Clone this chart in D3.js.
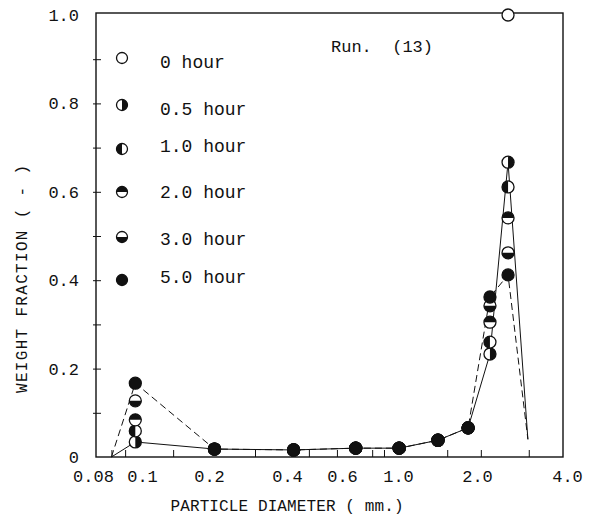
<!DOCTYPE html>
<html>
<head>
<meta charset="utf-8">
<script src="https://cdn.jsdelivr.net/npm/d3@7"></script>
<style>
  body { margin: 0; background: #fff; }
  text { font-family: "Liberation Mono", "Courier New", monospace; fill: #111; }
</style>
</head>
<body>
<div class="chart"></div>
<script>
var width = 590;
var height = 524;

// x tick labels (mm) and the values they stand for
var xLabelValues = [0.08, 0.1, 0.2, 0.4, 0.6, 1.0, 2.0, 4.0];
var xLabels = ["0.08", "0.1", "0.2", "0.4", "0.6", "1.0", "2.0", "4.0"];
var xMinorTicks = [0.087, 0.0926, 0.138, 0.301, 0.47, 0.578, 0.79, 0.88, 1.54, 2.06, 2.98];

var yLabelValues = [0, 0.2, 0.4, 0.6, 0.8, 1.0];
var yMinorTicks = [0.1, 0.2, 0.3, 0.4, 0.5, 0.6, 0.7, 0.8, 0.9];

// particle diameters (first and last are line ends, no marker)
var sizes = [0.087, 0.097, 0.21, 0.42, 0.68, 1.01, 1.42, 1.85, 2.21, 2.54, 2.96];

var hour0 = [null, null, null, null, null, null, null, null, null, 1.0, null];
var hour05 = [0, 0.034, 0.018, 0.016, 0.02, 0.02, 0.038, 0.066, 0.233, 0.667, 0.04];
var hour1 = [null, 0.059, 0.018, 0.016, 0.02, 0.02, 0.038, 0.066, 0.26, 0.611, null];
var hour2 = [null, 0.084, 0.018, 0.016, 0.02, 0.02, 0.038, 0.066, 0.305, 0.541, null];
var hour3 = [null, 0.127, 0.018, 0.016, 0.02, 0.02, 0.038, 0.066, 0.342, 0.462, null];
var hour5 = [0, 0.167, 0.018, 0.016, 0.02, 0.02, 0.038, 0.066, 0.362, 0.412, 0.04];

var seriesNames = ["0 hour", "0.5 hour", "1.0 hour", "2.0 hour", "3.0 hour", "5.0 hour"];
var seriesMarks = ["open", "right", "left", "top", "bottom", "full"];
var seriesValues = [hour0, hour05, hour1, hour2, hour3, hour5];

var plotLeft = 96, plotRight = 563, plotTop = 13, plotBottom = 457;

var x = d3
  .scaleLog()
  .domain(xLabelValues)
  .range([93, 142, 209, 287, 342, 398, 477, 567]);

var y = d3.scaleLinear().domain([0, 1]).range([plotBottom, 15]);

var svg = d3
  .select(".chart")
  .append("svg")
  .attr("width", width)
  .attr("height", height);

svg.append("rect").attr("width", width).attr("height", height).attr("fill", "#fff");

// frame
svg
  .append("rect")
  .attr("x", plotLeft)
  .attr("y", plotTop)
  .attr("width", plotRight - plotLeft)
  .attr("height", plotBottom - plotTop)
  .attr("fill", "none")
  .attr("stroke", "#111")
  .attr("stroke-width", 1.4);

// y labels
var yAxis = svg
  .append("g")
  .attr("transform", "translate(" + plotLeft + ",0)")
  .call(
    d3
      .axisLeft(y)
      .tickValues(yLabelValues)
      .tickSize(0)
      .tickPadding(17)
      .tickFormat(function (d) {
        return d === 0 ? "0" : d.toFixed(1);
      })
  );
yAxis.select(".domain").remove();
yAxis.selectAll("text").style("font-size", "17px").style("font-family", null);

// y minor ticks
var yTicks = svg
  .append("g")
  .attr("transform", "translate(" + (plotLeft - 3) + ",0)")
  .call(d3.axisRight(y).tickValues(yMinorTicks).tickSize(8).tickFormat(""));
yTicks.select(".domain").remove();
yTicks.selectAll("line").attr("stroke", "#111");

// x labels
var xAxis = svg
  .append("g")
  .attr("transform", "translate(0," + plotBottom + ")")
  .call(
    d3
      .axisBottom(x)
      .tickValues(xLabelValues)
      .tickSize(0)
      .tickPadding(13)
      .tickFormat(function (d, i) {
        return xLabels[i];
      })
  );
xAxis.select(".domain").remove();
xAxis.selectAll("text").style("font-size", "17px").style("font-family", null);

// x minor ticks
var xTicks = svg
  .append("g")
  .attr("transform", "translate(0," + plotBottom + ")")
  .call(d3.axisTop(x).tickValues(xMinorTicks).tickSize(7).tickFormat(""));
xTicks.select(".domain").remove();
xTicks.selectAll("line").attr("stroke", "#111");

// axis titles
svg
  .append("text")
  .attr("x", 287)
  .attr("y", 511)
  .attr("text-anchor", "middle")
  .attr("textLength", 233)
  .attr("lengthAdjust", "spacing")
  .style("font-size", "16px")
  .text("PARTICLE DIAMETER ( mm.)");

svg
  .append("text")
  .attr("transform", "translate(27,279) rotate(-90)")
  .attr("text-anchor", "middle")
  .attr("textLength", 228)
  .attr("lengthAdjust", "spacing")
  .style("font-size", "16px")
  .text("WEIGHT FRACTION ( - )");

svg
  .append("text")
  .attr("x", 331)
  .attr("y", 52)
  .style("font-size", "17px")
  .style("white-space", "pre")
  .text("Run.  (13)");

// lines: 0.5 hour solid, 5.0 hour dashed
var line = d3
  .line()
  .defined(function (d) {
    return d[1] !== null;
  })
  .x(function (d) {
    return x(d[0]);
  })
  .y(function (d) {
    return y(d[1]);
  });

svg
  .append("path")
  .attr("d", line(d3.zip(sizes, hour05)))
  .attr("fill", "none")
  .attr("stroke", "#111")
  .attr("stroke-width", 1);

svg
  .append("path")
  .attr("d", line(d3.zip(sizes, hour5)))
  .attr("fill", "none")
  .attr("stroke", "#111")
  .attr("stroke-width", 1)
  .attr("stroke-dasharray", "7,4");

function marker(g, kind, r) {
  g.append("circle")
    .attr("r", r)
    .attr("fill", kind === "full" ? "#111" : "#fff")
    .attr("stroke", "#111")
    .attr("stroke-width", 1.3);
  var half = {
    right: "M0," + -r + "A" + r + "," + r + " 0 0 1 0," + r + "Z",
    left: "M0," + -r + "A" + r + "," + r + " 0 0 0 0," + r + "Z",
    top: "M" + -r + ",0A" + r + "," + r + " 0 0 1 " + r + ",0Z",
    bottom: "M" + -r + ",0A" + r + "," + r + " 0 0 0 " + r + ",0Z"
  }[kind];
  if (half) g.append("path").attr("d", half).attr("fill", "#111");
}

// markers (line ends have none)
seriesValues.forEach(function (vals, s) {
  vals.forEach(function (v, i) {
    if (v === null || i === 0 || i === sizes.length - 1) return;
    var g = svg
      .append("g")
      .attr("transform", "translate(" + x(sizes[i]) + "," + y(v) + ")");
    marker(g, seriesMarks[s], 6);
  });
});

// legend
var legendSymY = [58, 105, 149, 192, 237, 280];
var legendTextY = [68, 115, 152, 198, 245, 283];
seriesNames.forEach(function (name, i) {
  var g = svg.append("g").attr("transform", "translate(122," + legendSymY[i] + ")");
  marker(g, seriesMarks[i], 5.5);
  svg
    .append("text")
    .attr("x", 160)
    .attr("y", legendTextY[i])
    .style("font-size", "18px")
    .text(name);
});
</script>
</body>
</html>
